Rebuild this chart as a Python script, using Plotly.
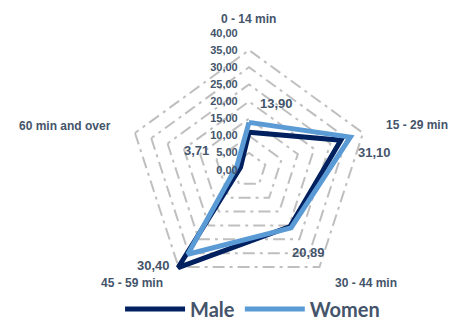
import math
import plotly.graph_objects as go

categories = ["0 - 14 min", "15 - 29 min", "30 - 44 min", "45 - 59 min", "60 min and over"]
male = [11.0, 28.2, 20.4, 35.2, 2.6]
women = [13.90, 31.10, 20.89, 30.40, 3.71]
women_labels = ["13,90", "31,10", "20,89", "30,40", "3,71"]
# pixel offsets of each value label from its point (dx right, dy up)
label_shift = [(28, 19), (24, -15), (17, -25), (-34, -11), (-40, 16)]
# category label placement around the outer ring: (xanchor, dx, dy)
cat_place = [("center", 0, 14), ("left", 5, 3), ("left", 3, -2), ("right", -3, -2), ("right", -6, 2)]

TEXT = "#44546A"
MALE_C = "#002060"
WOMEN_C = "#5B9BD5"

W, H = 451, 322
DOM_X = [0.2483, 0.8559]
DOM_Y = [0.0466, 0.8975]
R_MAX = 40


def closed(v):
    return list(v) + [v[0]]


fig = go.Figure()
fig.add_trace(go.Scatterpolar(
    r=closed(male), theta=closed(categories), name="Male", mode="lines",
    line=dict(color=MALE_C, width=5), hoverinfo="skip"))
fig.add_trace(go.Scatterpolar(
    r=closed(women), theta=closed(categories), name="Women", mode="lines",
    line=dict(color=WOMEN_C, width=5), hoverinfo="skip"))

# polar geometry in paper units
cx = (DOM_X[0] + DOM_X[1]) / 2
cy = (DOM_Y[0] + DOM_Y[1]) / 2
rad_px = min((DOM_X[1] - DOM_X[0]) * W, (DOM_Y[1] - DOM_Y[0]) * H) / 2


def to_paper(i, v):
    a = math.radians(90 - 72 * i)
    px = cx * W + v / R_MAX * rad_px * math.cos(a)
    py = cy * H + v / R_MAX * rad_px * math.sin(a)
    return px / W, py / H


annotations = []
for i, (v, txt, (dx, dy)) in enumerate(zip(women, women_labels, label_shift)):
    x, y = to_paper(i, v)
    annotations.append(dict(
        x=x, y=y, xref="paper", yref="paper", text=txt,
        xanchor="center", yanchor="middle",
        showarrow=False, xshift=dx, yshift=dy,
        font=dict(family="Liberation Sans", size=13, color=TEXT, weight="bold")))

for i, (name, (anc, dx, dy)) in enumerate(zip(categories, cat_place)):
    x, y = to_paper(i, R_MAX)
    annotations.append(dict(
        x=x, y=y, xref="paper", yref="paper", text=name,
        xanchor=anc, yanchor="middle",
        showarrow=False, xshift=dx, yshift=dy,
        font=dict(family="Liberation Sans", size=12, color=TEXT, weight="bold")))

NBSP = "\u00a0"

fig.update_layout(
    width=W, height=H,
    margin=dict(l=0, r=0, t=0, b=0, autoexpand=False),
    paper_bgcolor="white",
    separators=",.",
    font=dict(family="Liberation Sans", color=TEXT),
    annotations=annotations,
    polar=dict(
        domain=dict(x=DOM_X, y=DOM_Y),
        bgcolor="white",
        gridshape="linear",
        radialaxis=dict(
            range=[0, R_MAX], dtick=5, tick0=0, tickformat=".2f",
            ticksuffix=NBSP * 3,
            angle=90, tickangle=90, side="counterclockwise",
            showline=False, ticks="",
            gridcolor="#BFBFBF", gridwidth=1.5, griddash="12px,5px,3px,5px",
            tickfont=dict(family="Liberation Sans", size=11, color=TEXT, weight="bold"),
        ),
        angularaxis=dict(
            rotation=90, direction="clockwise",
            showgrid=False, showline=False, ticks="",
            showticklabels=False,
        ),
    ),
    legend=dict(
        orientation="h", x=0.56, xanchor="center", y=0.04, yanchor="middle",
        bgcolor="rgba(0,0,0,0)",
        font=dict(family="Lato", size=20, color=TEXT, weight="bold"),
        itemwidth=60,
    ),
)

fig.write_html("out.html")
